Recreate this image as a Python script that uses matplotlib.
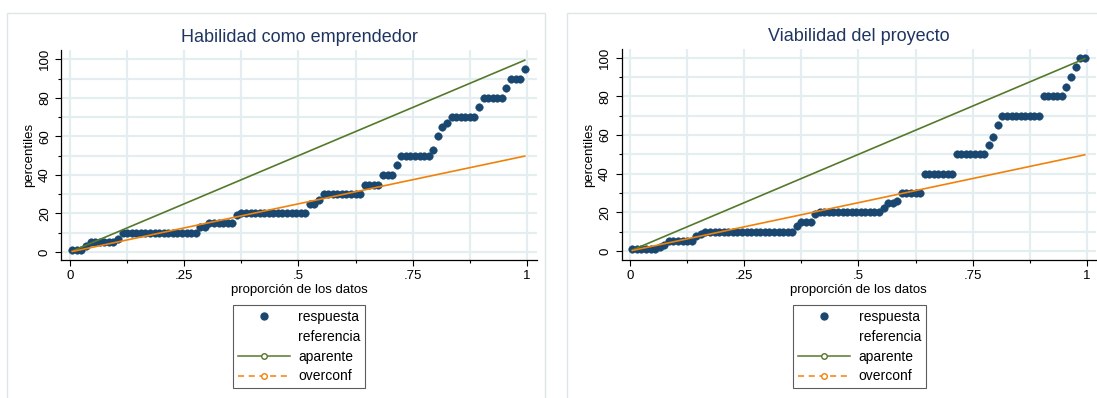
import numpy as np
import matplotlib
matplotlib.use("Agg")
import matplotlib.pyplot as plt
from matplotlib.lines import Line2D
from matplotlib.patches import Rectangle

plt.rcParams['font.family'] = ['Liberation Sans', 'DejaVu Sans']

# Sorted responses stored as runs: value and how many respondents gave it
hab_vals = [1, 3, 5, 7, 10, 13, 15, 19, 20, 25, 27, 30, 35, 40, 45, 50,
            53, 60, 65, 67, 70, 75, 80, 85, 90, 95]
hab_counts = [3, 1, 6, 1, 17, 2, 6, 1, 15, 2, 1, 9, 4, 3, 1, 7,
              1, 1, 1, 1, 6, 1, 5, 1, 3, 1]

via_vals = [1, 2, 3, 5, 8, 9, 10, 13, 15, 19, 20, 22, 25, 26, 30, 40,
            50, 55, 59, 65, 70, 80, 85, 90, 95, 100]
via_counts = [6, 1, 1, 6, 1, 1, 20, 1, 3, 1, 14, 1, 2, 1, 5, 7,
              7, 1, 1, 1, 9, 5, 1, 1, 1, 2]

titles = ['Habilidad como emprendedor', 'Viabilidad del proyecto']
xtick_vals = [0, 0.25, 0.5, 0.75, 1]
xtick_labels = ['0', '.25', '.5', '.75', '1']
ytick_vals = [0, 20, 40, 60, 80, 100]

# reference slopes: apparent (45-degree) and overconfidence (half)
slope_aparente = 100
slope_overconf = 50

legend_labels = ['respuesta', 'referencia', 'aparente', 'overconf']

NAVY = '#1a476f'
GREEN = '#55792b'
ORANGE = '#f0820a'
GRID = '#e4eef0'
TITLE_C = '#1f3560'

W, H = 1097, 398
fig = plt.figure(figsize=(W / 100, H / 100), dpi=100)
fig.patch.set_facecolor('white')

# light panel frames
for x0, x1 in [(7, 545), (567, 1105)]:
    fig.patches.append(Rectangle((x0 / W, -0.05), (x1 - x0) / W, (H - 13) / H + 0.05,
                                 transform=fig.transFigure, facecolor='white',
                                 edgecolor='#dde7ea', lw=1.0, zorder=-5))


def draw_panel(rect, vals, counts, title, xlim, ylim, leg_cx):
    ax = fig.add_axes(rect)
    ax.set_facecolor('white')
    y = np.repeat(np.array(vals, dtype=float), counts)
    n = len(y)
    p = (np.arange(1, n + 1) - 0.5) / n

    ax.scatter(p, y, s=30, color=NAVY, edgecolors=NAVY, linewidths=0.3, zorder=3)
    ax.plot(p, slope_aparente * p, color=GREEN, lw=1.2, zorder=4)
    ax.plot(p, slope_overconf * p, color=ORANGE, lw=1.2, zorder=4)

    ax.set_xlim(*xlim)
    ax.set_ylim(*ylim)
    ax.set_xticks(xtick_vals)
    ax.set_xticklabels(xtick_labels)
    ax.set_xticks([0.125, 0.375, 0.625, 0.875], minor=True)
    ax.set_yticks(ytick_vals)
    ax.set_yticks([10, 30, 50, 70, 90], minor=True)
    ax.grid(True, which='both', color=GRID, lw=1.6, zorder=0)
    ax.set_axisbelow(True)

    for s in ['top', 'right']:
        ax.spines[s].set_visible(False)
    for s in ['left', 'bottom']:
        ax.spines[s].set_linewidth(0.9)
        ax.spines[s].set_color('black')

    ax.tick_params(which='major', length=4.5, width=0.8, labelsize=9.5, pad=3)
    ax.tick_params(which='minor', length=2.5, width=0.8)
    ax.tick_params(axis='y', labelrotation=90)
    for lab in ax.get_yticklabels():
        lab.set_va('center')

    ax.set_title(title, fontsize=13, color=TITLE_C, pad=6)
    ax.set_xlabel('proporción de los datos', fontsize=9.5, labelpad=1)
    ax.set_ylabel('percentiles', fontsize=9.5, labelpad=3)

    handles = [
        Line2D([], [], ls='none', marker='o', ms=5, color=NAVY),
        Line2D([], [], ls='none'),
        Line2D([], [], color=GREEN, lw=1.1, marker='o', ms=4,
               mfc='white', mec=GREEN, mew=1.0),
        Line2D([], [], color=ORANGE, lw=1.1, ls=(0, (4, 3)), marker='o', ms=4,
               mfc='white', mec=ORANGE, mew=1.0),
    ]
    leg = fig.legend(handles, legend_labels, loc='upper center',
                     bbox_to_anchor=(leg_cx / W, 1 - 305 / H),
                     bbox_transform=fig.transFigure, frameon=True,
                     fancybox=False, edgecolor='#333333', fontsize=10,
                     handlelength=3.75, handletextpad=0.6, labelspacing=0.42,
                     borderpad=0.35, borderaxespad=0, numpoints=1)
    leg.get_frame().set_linewidth(0.8)
    return ax


draw_panel([61.4 / W, 1 - 260 / H, (537 - 61.4) / W, 210 / H],
           hab_vals, hab_counts, titles[0],
           (-0.0188, 1.0219), (-4.15, 104.8), 299)
draw_panel([621.5 / W, 1 - 260 / H, (1096 - 621.5) / W, 211 / H],
           via_vals, via_counts, titles[1],
           (-0.0186, 1.0197), (-4.66, 104.5), 859.5)

fig.savefig('out.png', dpi=100, facecolor='white')
